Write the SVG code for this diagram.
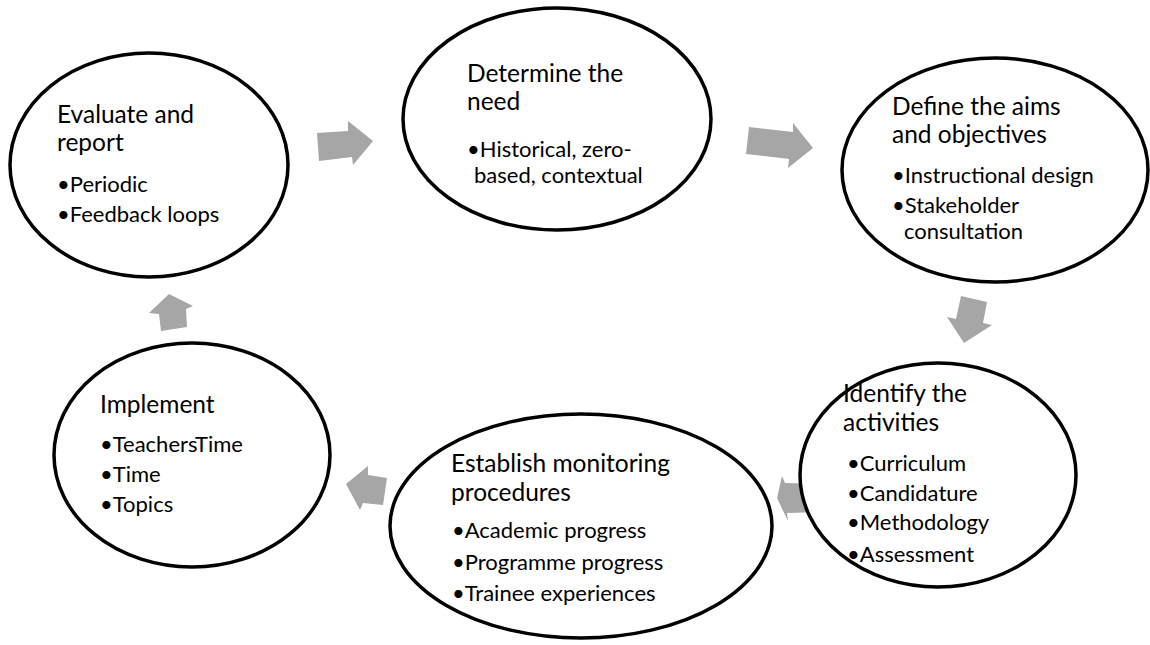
<svg xmlns="http://www.w3.org/2000/svg" width="1150" height="645" viewBox="0 0 1150 645">
  <style>
    .stage { fill: #ffffff; stroke: #000000; stroke-width: 3.5; }
    .flow { fill: #a6a6a6; stroke: none; }
    .head { font-family: Lato, "Liberation Sans", sans-serif; font-size: 24.5px; fill: #000000; }
    .item { font-family: Lato, "Liberation Sans", sans-serif; font-size: 22px; fill: #000000; }
  </style>
  <rect width="1150" height="645" fill="#ffffff"/>

  <!-- block arrows between the stages (drawn first so ellipses sit on top) -->
  <g id="connectors">
    <polygon class="flow" points="317,133 348,131 348,121 373,141 353,165 352,157 319,161"/>
    <polygon class="flow" points="749,127 793,132 793,123 813,148 788,168 789,159 746,154"/>
    <polygon class="flow" points="961,296 987,302 983,323 992,325 964,343 947,317 956,319"/>
    <polygon class="flow" points="777,498 782,476 785,483 822,484 823,512 787,513 788,521"/>
    <polygon class="flow" points="346,484 368,466 368,475 387,478 383,505 363,503 360,510"/>
    <polygon class="flow" points="169,294 193,306 186,309 187,327 161,331 159,314 149,313"/>
  </g>

  <g id="evaluate">
    <ellipse class="stage" cx="149" cy="165" rx="139" ry="112"/>
    <text class="head" x="57" y="123">Evaluate and</text>
    <text class="head" x="57" y="151">report</text>
    <text class="item" x="57" y="192">•Periodic</text>
    <text class="item" x="57" y="222">•Feedback loops</text>
  </g>

  <g id="determine">
    <ellipse class="stage" cx="557" cy="119" rx="154" ry="111"/>
    <text class="head" x="467" y="82">Determine the</text>
    <text class="head" x="467" y="110">need</text>
    <text class="item" x="467" y="157">•Historical, zero-</text>
    <text class="item" x="474" y="183">based, contextual</text>
  </g>

  <g id="define">
    <ellipse class="stage" cx="995" cy="170" rx="153" ry="112"/>
    <text class="head" x="892" y="115">Define the aims</text>
    <text class="head" x="892" y="143">and objectives</text>
    <text class="item" x="892" y="183">•Instructional design</text>
    <text class="item" x="892" y="213">•Stakeholder</text>
    <text class="item" x="904" y="239">consultation</text>
  </g>

  <g id="identify">
    <ellipse class="stage" cx="938" cy="475" rx="138" ry="112"/>
    <text class="head" x="843" y="402">Identify the</text>
    <text class="head" x="843" y="431">activities</text>
    <text class="item" x="847" y="471">•Curriculum</text>
    <text class="item" x="847" y="501">•Candidature</text>
    <text class="item" x="847" y="530">•Methodology</text>
    <text class="item" x="847" y="562">•Assessment</text>
  </g>

  <g id="establish">
    <ellipse class="stage" cx="581" cy="526" rx="191" ry="112"/>
    <text class="head" x="451" y="472">Establish monitoring</text>
    <text class="head" x="451" y="501">procedures</text>
    <text class="item" x="452" y="538">•Academic progress</text>
    <text class="item" x="452" y="570">•Programme progress</text>
    <text class="item" x="452" y="601">•Trainee experiences</text>
  </g>

  <g id="implement">
    <ellipse class="stage" cx="192" cy="455" rx="138" ry="112"/>
    <text class="head" x="100" y="413">Implement</text>
    <text class="item" x="100" y="452">•TeachersTime</text>
    <text class="item" x="100" y="482">•Time</text>
    <text class="item" x="100" y="512">•Topics</text>
  </g>
</svg>
